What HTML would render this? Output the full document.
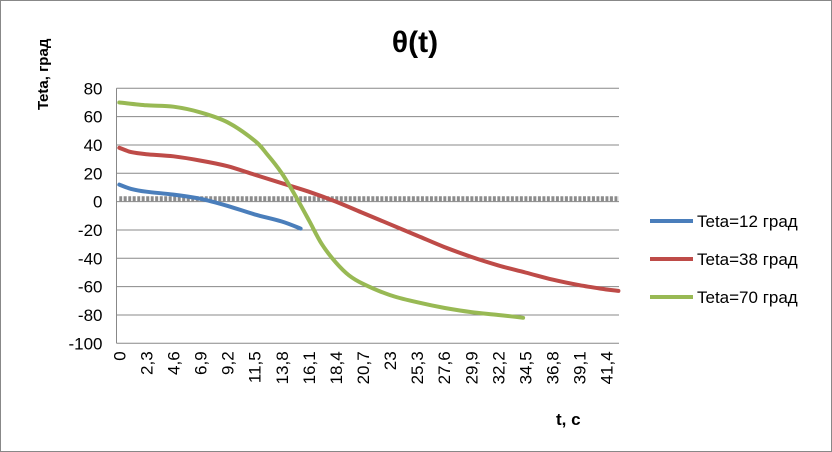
<!DOCTYPE html>
<html><head><meta charset="utf-8"><style>
body{margin:0;background:#fff}
svg{display:block;font-family:"Liberation Sans",sans-serif}
</style></head><body>
<svg id="c" width="832" height="452">
<rect x="0.5" y="0.5" width="831" height="451" fill="#fff" stroke="#888"/>
<text x="415" y="52" text-anchor="middle" font-size="30" font-weight="bold">θ(t)</text>
<text transform="translate(48,110) rotate(-90)" font-size="15" font-weight="bold">Teta, град</text>
<text x="556" y="425" font-size="17" font-weight="bold">t, с</text>
<g id="grid"></g><g id="series"></g><g id="axes"></g><g id="legend"></g>
</svg>
<script>
const yTicks=[80,60,40,20,0,-20,-40,-60,-80,-100];
const xTickLabels=["0","2,3","4,6","6,9","9,2","11,5","13,8","16,1","18,4","20,7","23","25,3","27,6","29,9","32,2","34,5","36,8","39,1","41,4"];
const xTickValues=[0,2.3,4.6,6.9,9.2,11.5,13.8,16.1,18.4,20.7,23,25.3,27.6,29.9,32.2,34.5,36.8,39.1,41.4];
const blueT=[0,1,2.3,4.6,6.9,9.2,11.5,13.8,15.4];
const blueV=[12,9,7,5,2,-3,-9,-14,-19];
const redT=[0,1,2.3,4.6,6.9,9.2,11.5,13.8,16.1,18.4,20.7,23,25.3,27.6,29.9,32.2,34.5,36.8,39.1,41.4,42.4];
const redV=[38,35,33.5,32,29,25,19,13,7,0,-8,-16,-24,-32,-39,-45,-50,-55,-59,-62,-63];
const greenT=[0,2.3,4.6,6.9,9.2,11.5,12.6,13.8,14.9,16.1,17.2,18.4,19.5,20.7,23,25.3,27.6,29.9,32.2,34.3];
const greenV=[70,68,67,63,56,43,33,20,5,-13,-30,-43,-52,-58,-66,-71,-75,-78,-80,-82];
const refT=[0,42.45];
const refV=[2,2];
const names=["Teta=12 град","Teta=38 град","Teta=70 град"];
const NS="http://www.w3.org/2000/svg";
const L=116.5,R=619,T=88.3,B=343.3;
const xs=t=>L+(t+0.24)*(R-L)/42.69;
const ys=v=>T+(80-v)*(B-T)/180;
function mk(tag,attrs,parent){const e=document.createElementNS(NS,tag);for(const k in attrs)e.setAttribute(k,attrs[k]);document.getElementById(parent).appendChild(e);return e;}
yTicks.forEach(v=>{
 const g=mk('line',{x1:L,x2:R,y1:ys(v),y2:ys(v),stroke:'#888','stroke-width':1},'grid');
 
 
 const t=mk('text',{x:L-14,y:ys(v)+6,'text-anchor':'end','font-size':17},'axes');
 t.textContent=v;
 
 
});
const ax=mk('line',{x1:L,x2:L,y1:T,y2:B,stroke:'#888'},'axes');


xTickValues.forEach((v,i)=>{
 const x=xs(v);
 const t=mk('text',{transform:`translate(${x+6},${B+8}) rotate(-90)`,'text-anchor':'end','font-size':17},'axes');
 t.textContent=xTickLabels[i];
 
 
});
function smooth(P){
 let d='M'+P[0][0].toFixed(1)+','+P[0][1].toFixed(1);
 for(let i=0;i<P.length-1;i++){
  const p0=P[Math.max(0,i-1)],p1=P[i],p2=P[i+1],p3=P[Math.min(P.length-1,i+2)];
  const c1=[p1[0]+(p2[0]-p0[0])/6,p1[1]+(p2[1]-p0[1])/6];
  const c2=[p2[0]-(p3[0]-p1[0])/6,p2[1]-(p3[1]-p1[1])/6];
  d+='C'+c1.map(n=>n.toFixed(1)).join(',')+' '+c2.map(n=>n.toFixed(1)).join(',')+' '+p2[0].toFixed(1)+','+p2[1].toFixed(1);
 }
 return d;
}
function line(T_,V_,color,name,extra){
 const P=T_.map((t,i)=>[xs(t),ys(V_[i])]);
 const p=mk('path',Object.assign({d:smooth(P),fill:'none',stroke:color,'stroke-width':4,'stroke-linejoin':'round','stroke-linecap':'round'},extra||{}),'series');
 
 
}
line(refT,refV,'#8c8c8c','reference-line',{'stroke-dasharray':'3,1.5','stroke-width':5,'stroke-linecap':'butt'});
line(blueT,blueV,'#4a7ebb','series-teta-12');
line(redT,redV,'#be4b48','series-teta-38');
line(greenT,greenV,'#98b954','series-teta-70');
const cols=['#4a7ebb','#be4b48','#98b954'];
names.forEach((n,i)=>{
 const y=221+i*38;
 const l=mk('line',{x1:650,x2:693,y1:y,y2:y,stroke:cols[i],'stroke-width':4},'legend');
 
 
 const t=mk('text',{x:697,y:y+6,'font-size':17},'legend');
 t.textContent=n;
 
 
});
</script>
</body></html>
